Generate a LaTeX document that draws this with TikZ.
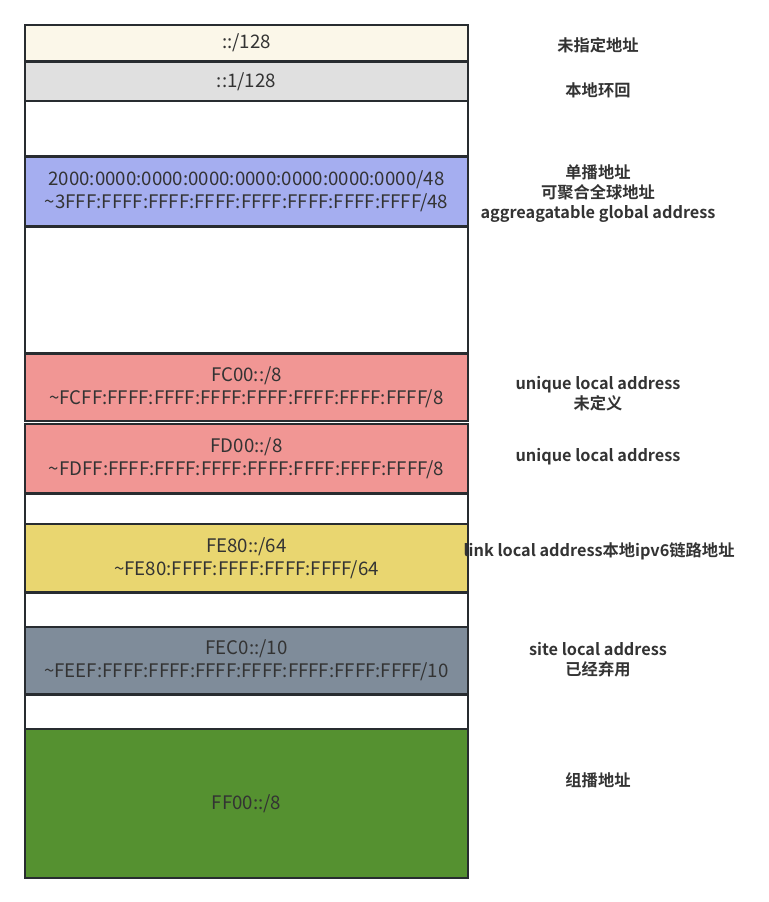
\documentclass[tikz,border=0pt]{standalone}
\usepackage{fontspec}
\setmainfont{Noto Sans CJK SC}
\newfontfamily\lblfont{Noto Sans CJK SC Bold}
\begin{document}
\begin{tikzpicture}[x=0.75pt,y=-0.75pt,
  seg/.style={line width=1.5pt, inner sep=0pt, outer sep=0pt,
    minimum width=443*0.75pt, align=center, text=txt, font=\fontsize{14pt}{17.3pt}\selectfont},
  lbl/.style={align=center, text=txt, font=\lblfont\fontsize{12.2pt}{14.8pt}\selectfont}]
\definecolor{txt}{RGB}{51,51,51}
\definecolor{c1}{RGB}{251,247,233}
\definecolor{c2}{RGB}{224,224,224}
\definecolor{c4}{RGB}{165,174,240}
\definecolor{c6}{RGB}{241,150,148}
\definecolor{c9}{RGB}{233,214,112}
\definecolor{c11}{RGB}{127,140,154}
\definecolor{c13}{RGB}{85,145,48}
\definecolor{edge}{RGB}{40,44,48}
\tikzset{seg/.append style={draw=edge}}
\useasboundingbox (0,0) rectangle (768,902);
\node[seg, fill=c1, minimum height=36*0.75pt] (b1) at (246.5,43) {::/128};
\node[seg, fill=c2, minimum height=39*0.75pt] (b2) at (246.5,81.5) {::1/128};
\node[seg, fill=white, minimum height=55*0.75pt] (b3) at (246.5,128.5) {};
\node[seg, fill=c4, minimum height=69*0.75pt] (b4) at (246.5,191.5) {2000:0000:0000:0000:0000:0000:0000:0000/48\\\textasciitilde 3FFF:FFFF:FFFF:FFFF:FFFF:FFFF:FFFF:FFFF/48};
\node[seg, fill=white, minimum height=126*0.75pt] (b5) at (246.5,290) {};
\node[seg, fill=c6, minimum height=67*0.75pt] (b6) at (246.5,387.5) {FC00::/8\\\textasciitilde FCFF:FFFF:FFFF:FFFF:FFFF:FFFF:FFFF:FFFF/8};
\node[seg, fill=c6, minimum height=69*0.75pt] (b7) at (246.5,458.5) {FD00::/8\\\textasciitilde FDFF:FFFF:FFFF:FFFF:FFFF:FFFF:FFFF:FFFF/8};
\node[seg, fill=white, minimum height=30*0.75pt] (b8) at (246.5,508.5) {};
\node[seg, fill=c9, minimum height=68*0.75pt] (b9) at (246.5,558) {FE80::/64\\\textasciitilde FE80:FFFF:FFFF:FFFF:FFFF/64};
\node[seg, fill=white, minimum height=34*0.75pt] (b10) at (246.5,609.5) {};
\node[seg, fill=c11, minimum height=67*0.75pt] (b11) at (246.5,660.5) {FEC0::/10\\\textasciitilde FEEF:FFFF:FFFF:FFFF:FFFF:FFFF:FFFF:FFFF/10};
\node[seg, fill=white, minimum height=34*0.75pt] (b12) at (246.5,711.5) {};
\node[seg, fill=c13, minimum height=149*0.75pt] (b13) at (246.5,803.5) {FF00::/8};
\node[lbl] (l1) at (598,45) {未指定地址};
\node[lbl] (l2) at (598,90) {本地环回};
\node[lbl] (l4) at (598,193.5) {单播地址\\可聚合全球地址\\aggreagatable global address};
\node[lbl] (l6) at (598,394) {unique local address\\未定义};
\node[lbl] (l7) at (598,457) {unique local address};
\node[lbl] (l9) at (599,551) {link local address本地ipv6链路地址};
\node[lbl] (l11) at (598,659.5) {site local address\\已经弃用};
\node[lbl] (l13) at (598,780) {组播地址};
\end{tikzpicture}
\end{document}
